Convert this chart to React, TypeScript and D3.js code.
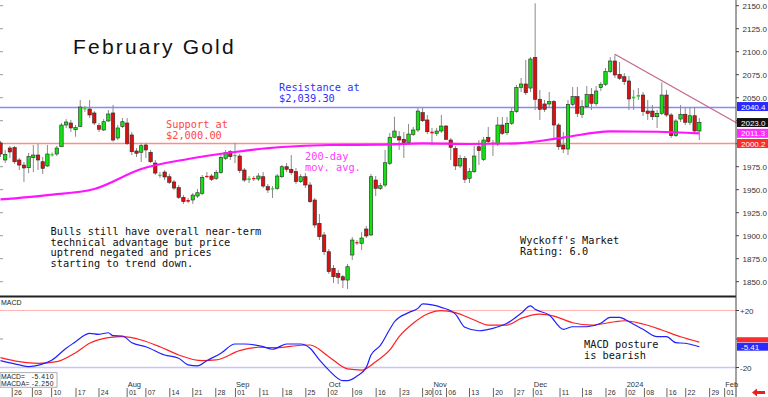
import React from "react";
import * as d3 from "d3";

// ---------- DATA ----------
const opens = [2000.8,1982.3,1995.3,1995.7,1982.3,1976.8,1973.9,1984.8,1987.7,1980.4,1975.8,1988,1988.8,1996.7,2020.3,2022.5,2015.2,2018.5,2038,2037.7,2033.4,2019.6,2014.9,2024.7,2033.4,2006.2,2018.5,2022.5,2009.5,1992.1,1990.7,1998.6,1990.7,1979,1965.5,1969.2,1964.1,1958.4,1952.2,1941.7,1938.8,1938.8,1943.1,1946.1,1965,1964.9,1962.4,1968.5,1984.1,1991.3,1986.6,1986.6,1971.4,1960.5,1962.7,1961.6,1964.1,1953.3,1950.4,1951.5,1964.1,1975,1972.2,1969.6,1958.7,1964.1,1955.1,1938.8,1913.5,1900.8,1882.6,1864.6,1859.1,1855.4,1851.8,1879,1893,1891.7,1907.3,1900.8,1960.5,1951.5,1955.1,1978.7,2007,2007.6,2004.8,2001.1,2010.2,2014.9,2033.7,2025.8,2013,2011.3,2013.8,2019.2,2004,1995,1975.8,1984.1,1962.4,1969.6,1996.7,1983,2007,2001.1,1999.7,2020.3,2011.9,2022.2,2034.8,2061.3,2064.9,2060.5,2093.9,2048.3,2043.2,2043.2,2045.7,2020.3,1998.6,1994.2,2042.8,2051.1,2032,2040.2,2053.7,2043.9,2060.9,2064.6,2078.3,2089.9,2075.4,2072.8,2068.2,2049.3,2051.1,2052.9,2035.5,2035.5,2029.3,2033,2052.9,2031.2,2008.7,2026.8,2032,2023.3,2030.4,2013.8];
const highs = [2002.9,1993.2,1997.5,1997.5,1984.5,1980.1,1989.9,1998.6,1999.7,1985.5,1998.6,1990.5,1997.5,2022.5,2026.8,2025.8,2020.3,2047.5,2041,2047.5,2035.5,2022.5,2026.8,2036.6,2042.1,2020.3,2027.9,2027.9,2012.7,1995.3,2000.8,2000.8,1993.2,1982.3,1969.2,1971.4,1967.1,1960.5,1955.1,1944.2,1941,1946.4,1950.8,1966,1969.2,1967.1,1971.4,1987.7,1993.2,1993.2,2000.8,1988.8,1973.6,1964.9,1964.9,1968.1,1969.2,1956.2,1954,1967.1,1976.8,1979,1987.7,1973.6,1967.1,1968.1,1958.4,1941,1923.6,1904,1885.5,1868.1,1862.7,1857.3,1869.2,1898.6,1895.3,1904,1910.5,1967.1,1964.9,1957.3,1993.2,2011.6,2029.3,2013.8,2012.7,2021.4,2018.2,2039.6,2038.8,2031.2,2017.1,2017.1,2031.2,2020.3,2006.2,1997.5,1987.7,1986.6,1973.6,1997.5,2004,2007.3,2018.2,2004,2029,2029,2029,2038.8,2063.8,2071.4,2091,2094.2,2152.6,2058.4,2047.5,2056.2,2047.5,2022.5,2012.7,2047.5,2061.6,2061.6,2047.5,2062.7,2060.5,2062.7,2067.1,2082.3,2094.2,2097.2,2088.8,2076.8,2073.6,2058.4,2060.5,2056.2,2047.5,2042.1,2036.6,2066.7,2058.4,2033.4,2026.8,2042.1,2038.8,2038.8,2038.8,2027.9];
const lows = [1985.5,1979,1984.5,1978,1971.4,1958.4,1968.1,1969.2,1971.4,1967.1,1974.7,1986,1986.6,1996.4,2017.1,2012.7,2007.6,2018.2,2034.5,2027.9,2020.3,2012.7,2013.8,2023.6,2002.2,2004,2017.1,1998.6,1987.7,1985.5,1980.1,1984.5,1979,1966,1962.7,1960.5,1956.2,1949.7,1939.9,1934.5,1935.5,1934.5,1941,1944.2,1962.7,1959.4,1960.5,1967.1,1982.3,1982.3,1979,1968.1,1958.4,1957.3,1959.4,1959.4,1951.8,1946.4,1941,1949.7,1962.7,1969.2,1966,1956.2,1957.3,1951.8,1935.5,1908.4,1895.3,1879,1858.4,1848.6,1847.5,1843.1,1842,1873.6,1889.9,1884.5,1897.5,1899.7,1943.1,1949.7,1952.9,1976.8,2006.2,1993.2,1984.5,1998.6,2008.4,2012.7,2023.6,2010.5,1998.6,2008.4,2011.6,2004,1982.3,1971.4,1973.6,1957.3,1957.3,1968.1,1976.8,1981.2,2000.8,1986.6,1997.5,2009.5,2009.5,2020.3,2033.4,2056.2,2052.9,2056.2,2036.6,2025.8,2034.5,2038.8,2004,1993.2,1989.9,1987.7,2040.9,2029,2027.9,2038.8,2036.6,2041,2057.3,2062.7,2076.8,2071.4,2069.2,2063.8,2036.6,2036.6,2047.5,2030.1,2025.8,2025.8,2017.1,2031.2,2029,2006.2,2007.3,2023.6,2020.3,2020.3,2010.5,2004];
const closes = [1988.8,1988.5,1991,1980.4,1976.8,1973.6,1985.9,1987.7,1982.3,1973.2,1988.8,1988.6,1995.3,2020.3,2023.6,2017.1,2017.4,2039.9,2038.6,2031.2,2022.5,2015.7,2023.9,2032.3,2004,2017.1,2023.9,2000.4,1991.3,1989.6,1997.8,1993.2,1980.4,1968.1,1966.2,1963.8,1958,1951.8,1941.7,1937,1937,1944.2,1946.7,1963.5,1964.5,1961.3,1968.5,1985.2,1990.2,1985.9,1987.7,1970.7,1960.5,1962.4,1962.2,1964.9,1954,1949.7,1951.5,1964.9,1975,1972.2,1968.5,1958.7,1964.1,1955.1,1937,1911.6,1898.9,1882.6,1860.9,1855.4,1854.8,1851.8,1866.3,1895.3,1892.4,1897.5,1899.7,1964.1,1951.5,1954.3,1979.3,2007,2013.8,2004,2001.1,2010.5,2014.9,2035.5,2025,2013,2011.3,2013.8,2019.2,2004.8,1996.1,1975.8,1984.1,1961.3,1969.6,1986.6,1992.4,2004,2002.2,1999.7,2020.3,2011.3,2022.2,2034.8,2061.3,2064.9,2055.4,2092.1,2048.3,2037.4,2037.4,2045.7,2020.3,1996.7,1994.2,2042.8,2051.1,2033,2040.2,2053.7,2043.9,2057.3,2064.6,2078.3,2089.9,2074.7,2071.1,2067.4,2048.6,2051.1,2052.9,2034.8,2033,2029.3,2033,2052.9,2031.2,2008.7,2024.7,2032,2023.3,2030.4,2013.8,2023];

// 200-day moving average, sampled at candle indices
const maIdx = [0, 10, 20, 30, 40, 50, 60, 70, 80, 90, 100, 110, 120, 130, 140, 149];
const maVal = [1939.4, 1944.2, 1950.8, 1972.5, 1983.4, 1991, 1996.4, 1998.6, 1998.9, 2000.4, 1999.7, 2000.4, 2006.7, 2013.3, 2013, 2011.3];

// MACD line (blue) and its average (red)
const macdIdx = [0,4,6,9,11,14,16,18,19,21,23,24,26,28,31,35,38,40,42,44,47,50,52,56,58,61,64,66,68,70,73,74,76,78,79,81,83,84,87,89,90,92,94,97,99,102,105,108,111,113,114,117,120,122,125,128,130,132,134,137,140,142,144,146,149];
const macdVal = [-15.2,-18.2,-19.4,-17.5,-14.7,-6.5,-1.9,2.8,4,3.3,4.4,2.3,2.1,-2.6,-5.4,-11.2,-13.5,-18.2,-18.9,-15.2,-10,-3.5,-3.5,-5.4,-7.2,-3.5,-3.5,-6.5,-14.7,-21.8,-29.2,-29.2,-26,-19.9,-11.2,-4.5,6.8,12.1,18.5,21.5,24.6,23.9,22.2,17.5,8.2,5.8,7.5,11,18,23.2,20.8,16.8,6.8,8.6,8.6,11,15.2,15.2,12.1,6.8,1.6,1.6,-2.6,-3,-5.41];
const sigIdx = [0,4,8,12,16,19,23,26,30,34,38,43,46,51,55,59,64,66,70,74,77,80,83,85,88,91,94,97,101,104,108,111,115,118,122,126,131,133,137,141,145,149];
const sigVal = [-13.1,-15.9,-17.1,-15.9,-9.6,-3,0.9,1.6,-0.7,-5.4,-11.2,-15.2,-14.7,-8.2,-5.8,-6.1,-4.4,-4.2,-12.4,-21,-21.8,-15.9,-7.7,1.6,11,17.5,19.9,18.5,13.3,9.8,9.8,14.5,17.5,16.1,11.4,9.8,12.1,12.8,10.5,6.3,1.6,-2.25];

// Key levels
const resistance = 2039.3;
const resistanceTag = 2040.4;
const support = 2000.2;
const lastClose = 2023.0;
const maLast = 2011.3;
const trendIdx = [131, 157];
const trendVal = [2097.2, 2022.5];

// Axes
const priceTicks = [2150, 2125, 2100, 2075, 2050, 2025, 2000, 1975, 1950, 1925, 1900, 1875, 1850];
const macdTicks = [20, 0, -20];
const dayLabels = ["26","03","10","17","24","01","07","14","21","28","01","11","18","25","02","09","16","23","30","01","06","13","20","27","01","11","18","26","02","08","16","22","29","01"];
const dayIdx = [2.5,6.8,10.9,16.1,21.0,27.0,31.0,36.1,41.0,45.9,50.1,55.3,60.2,65.1,69.9,75.1,80.1,85.2,90.0,92.2,95.1,100.0,105.1,109.7,113.6,119.3,124.1,129.1,133.4,137.3,142.1,146.1,151.2,154.4];
const monthLabels = ["Aug", "Sep", "Oct", "Nov", "Dec", "2024", "Feb"];
const monthIdx = [27.0, 50.1, 69.9, 92.2, 113.6, 133.4, 154.4];

// ---------- CHART ----------
const W = 768, H = 397;
const AXX = 736;
const mono = "'DejaVu Sans Mono', monospace";
const sans = "'Liberation Sans', Arial, sans-serif";

export default function App() {
  const x = d3.scaleLinear().domain([0, 149]).range([0.5, 0.5 + 4.69 * 149]);
  const y = d3.scaleLinear().domain([1850, 2150]).range([281.7, 5.7]);
  const ym = d3.scaleLinear().domain([-20, 20]).range([367.5, 310.5]);

  const maLine = d3.line<number>().x((_, k) => x(maIdx[k])).y((v) => y(v)).curve(d3.curveMonotoneX)(maVal) || "";
  const macdLine = d3.line<number>().x((_, k) => x(macdIdx[k])).y((v) => ym(v)).curve(d3.curveMonotoneX)(macdVal) || "";
  const sigLine = d3.line<number>().x((_, k) => x(sigIdx[k])).y((v) => ym(v)).curve(d3.curveMonotoneX)(sigVal) || "";

  const bw = 3.4;
  const candles = opens.map((o, i) => {
    const c = closes[i];
    const up = c >= o;
    const top = y(Math.max(o, c));
    const bot = y(Math.min(o, c));
    const h = Math.max(bot - top, 1.2);
    const cx = x(i);
    return (
      <g key={i}>
        <line x1={cx} x2={cx} y1={y(highs[i])} y2={y(lows[i])} stroke="#8a8a8a" strokeWidth={1} />
        <rect x={cx - bw / 2} y={top} width={bw} height={h}
          fill={up ? "#14e014" : "#dc0f0f"}
          stroke={h > 2 ? "#2a2a2a" : "none"} strokeWidth={0.6} />
      </g>
    );
  });

  const tags = [
    { v: resistanceTag, bg: "#2a2aff" },
    { v: lastClose, bg: "#111" },
    { v: maLast, bg: "#ff2cff" },
    { v: support, bg: "#ff2a2a" },
  ];
  const hiddenByTag = (p: number) => tags.some((t) => Math.abs(y(t.v) - y(p)) < 7);

  const sigLast = sigVal[sigVal.length - 1];
  const macdLast = macdVal[macdVal.length - 1];

  return (
    <svg width={W} height={H} style={{ position: "absolute", left: 0, top: 0, background: "#fff" }}>
      <rect x={0} y={0} width={W} height={H} fill="#fff" />

      {/* left minor ticks */}
      {priceTicks.map((p) => (
        <line key={"lt" + p} x1={0} x2={3} y1={y(p)} y2={y(p)} stroke="#999" />
      ))}

      {/* level lines */}
      <line x1={0} x2={AXX} y1={y(resistance)} y2={y(resistance)} stroke="#8888ff" strokeWidth={1.6} />
      <line x1={0} x2={AXX} y1={y(support)} y2={y(support)} stroke="#ff8c8c" strokeWidth={1.5} />

      {candles}

      <path d={maLine} fill="none" stroke="#ff14ff" strokeWidth={2.2} />
      <line x1={x(trendIdx[0])} y1={y(trendVal[0])} x2={x(trendIdx[1])} y2={y(trendVal[1])} stroke="#c0668e" strokeWidth={1.2} />

      {/* annotations */}
      <text x={73} y={54} fontSize={21} fontFamily={sans} letterSpacing={2.2} fill="#111">February Gold</text>
      <text fontSize={10.3} fontFamily={mono} fill="#3030ff">
        <tspan x={279} y={91}>Resistance at</tspan>
        <tspan x={279} y={102}>$2,039.30</tspan>
      </text>
      <text fontSize={10.3} fontFamily={mono} fill="#ff4646">
        <tspan x={166} y={128}>Support at</tspan>
        <tspan x={166} y={139}>$2,000.00</tspan>
      </text>
      <text fontSize={10.3} fontFamily={mono} fill="#ff3cff">
        <tspan x={305} y={160}>200-day</tspan>
        <tspan x={305} y={171}>mov. avg.</tspan>
      </text>
      <text fontSize={10.3} fontFamily={mono} fill="#111">
        <tspan x={50.5} y={235}>Bulls still have overall near-term</tspan>
        <tspan x={50.5} y={245.5}>technical advantage but price</tspan>
        <tspan x={50.5} y={256}>uptrend negated and prices</tspan>
        <tspan x={50.5} y={266.5}>starting to trend down.</tspan>
      </text>
      <text fontSize={10.3} fontFamily={mono} fill="#111">
        <tspan x={520} y={244}>Wyckoff's Market</tspan>
        <tspan x={520} y={254.5}>Rating: 6.0</tspan>
      </text>

      {/* panel separator */}
      <line x1={0} x2={AXX} y1={296.5} y2={296.5} stroke="#222" strokeWidth={1.8} />

      {/* MACD panel */}
      <line x1={0} x2={AXX} y1={ym(20)} y2={ym(20)} stroke="#ffb4b4" strokeWidth={1} />
      <line x1={0} x2={AXX} y1={ym(-20)} y2={ym(-20)} stroke="#c4c4ff" strokeWidth={1.4} />
      <line x1={0} x2={3} y1={ym(0)} y2={ym(0)} stroke="#999" />
      <path d={sigLine} fill="none" stroke="#ff2020" strokeWidth={1.2} />
      <path d={macdLine} fill="none" stroke="#2020ff" strokeWidth={1.2} />
      <text x={1} y={304.5} fontSize={7} fontFamily={sans} fill="#222">MACD</text>
      <text fontSize={10.3} fontFamily={mono} fill="#111">
        <tspan x={584} y={348}>MACD posture</tspan>
        <tspan x={584} y={358.5}>is bearish</tspan>
      </text>
      <rect x={0} y={372.7} width={57} height={14.5} fill="#fff" stroke="#999" strokeWidth={0.8} />
      <text fontSize={6.8} fontFamily={sans} fill="#222">
        <tspan x={1} y={379}>MACD=</tspan>
        <tspan x={1} y={386}>MACDA=</tspan>
      </text>
      <text fontSize={6.8} fontFamily={sans} fill="#222" textAnchor="end" letterSpacing={0.5}>
        <tspan x={54} y={379}>-5.410</tspan>
        <tspan x={54} y={386}>-2.250</tspan>
      </text>

      {/* right axis */}
      <line x1={AXX} x2={AXX} y1={0} y2={H} stroke="#444" strokeWidth={1} />
      {priceTicks.map((p) => (
        <g key={"pt" + p}>
          <line x1={AXX} x2={AXX + 3} y1={y(p)} y2={y(p)} stroke="#444" />
          {!hiddenByTag(p) && (
            <text x={742.5} y={y(p) + 3} fontSize={8} fontFamily={sans} fill="#333">{p.toFixed(1)}</text>
          )}
        </g>
      ))}
      {tags.map((t, k) => (
        <g key={"tag" + k}>
          <rect x={AXX + 1} y={y(t.v) - 4.5} width={W - AXX - 1} height={9} fill={t.bg} />
          <text x={AXX + 5} y={y(t.v) + 3} fontSize={8} fontFamily={sans} fill="#fff">{t.v.toFixed(1)}</text>
        </g>
      ))}

      {macdTicks.map((v) => (
        <g key={"mt" + v}>
          <line x1={AXX} x2={AXX + 3} y1={ym(v)} y2={ym(v)} stroke="#444" />
          {v !== 0 && (
            <text x={740} y={ym(v) + 3} fontSize={8} fontFamily={sans} fill="#333">{v > 0 ? "+" + v : String(v)}</text>
          )}
        </g>
      ))}
      <rect x={AXX + 1} y={ym(sigLast) - 5} width={W - AXX - 1} height={5} fill="#ff2a2a" />
      <rect x={AXX + 1} y={ym(macdLast) - 4} width={W - AXX - 1} height={8} fill="#2a2aff" />
      <text x={AXX + 5} y={ym(macdLast) + 3} fontSize={8} fontFamily={sans} fill="#fff">{macdLast.toFixed(2)}</text>

      {/* date axis */}
      {dayLabels.map((d, k) => (
        <g key={"d" + k}>
          <line x1={x(dayIdx[k])} x2={x(dayIdx[k])} y1={388} y2={397} stroke="#555" strokeWidth={0.9} />
          <text x={x(dayIdx[k]) + 1.8} y={395} fontSize={7} fontFamily={sans} fill="#333">{d}</text>
        </g>
      ))}
      {monthLabels.map((m, k) => (
        <text key={"m" + k} x={x(monthIdx[k]) + 0.5} y={386.5} fontSize={7.5} fontFamily={sans} fill="#333">{m}</text>
      ))}
      <polygon points="752,392.5 757,388.5 757,391 765,391 765,394 757,394 757,396.5" fill="#e82020" />
    </svg>
  );
}
